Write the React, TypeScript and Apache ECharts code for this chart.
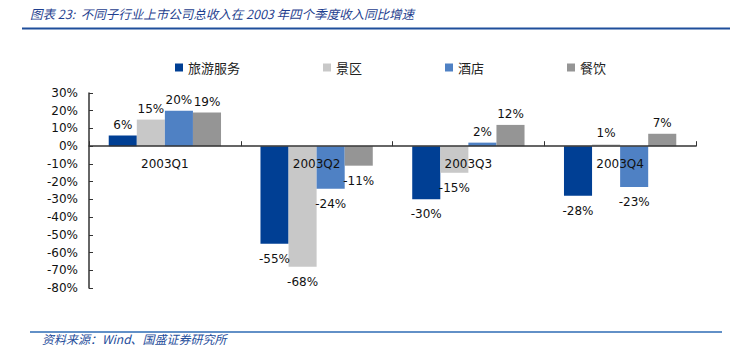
import React, { useEffect, useRef } from "react";
import * as echarts from "echarts";

const categories = ["2003Q1", "2003Q2", "2003Q3", "2003Q4"];
const seriesNames = ["旅游服务", "景区", "酒店", "餐饮"];
const tourism = [6, -55, -30, -28];
const scenic = [15, -68, -15, 1];
const hotel = [20, -24, 2, -23];
const catering = [19, -11, 12, 7];
const colors = ["#003f94", "#c8c8c8", "#4f81c4", "#959595"];
const titleText = "图表 23:  不同子行业上市公司总收入在 2003 年四个季度收入同比增速";
const sourceText = "资料来源：Wind、国盛证券研究所";

export default function App() {
  const ref = useRef<HTMLDivElement>(null);
  useEffect(() => {
    const chart = echarts.init(ref.current!, null, { renderer: "svg" });
    const allData = [tourism, scenic, hotel, catering];
    const series = allData.map((arr, i) => ({
      name: seriesNames[i],
      type: "bar",
      barGap: "0%",
      barCategoryGap: "26%",
      itemStyle: { color: colors[i] },
      data: arr.map((v) => ({
        value: v,
        label: {
          show: true,
          position: v >= 0 ? "top" : "bottom",
          distance: v >= 0 ? 5 : 9,
        },
      })),
      label: {
        show: true,
        formatter: (p: any) => p.value + "%",
        fontFamily: "DejaVu Sans",
        fontSize: 12,
        color: "#111",
      },
    }));
    chart.setOption({
      animation: false,
      backgroundColor: "#ffffff",
      legend: {
        left: 170,
        top: 56,
        itemWidth: 8,
        itemHeight: 8,
        itemGap: 83,
        icon: "rect",
        data: seriesNames,
        textStyle: { fontFamily: "Noto Sans CJK SC", fontSize: 13, color: "#222" },
      },
      grid: { left: 89, right: 34, top: 93, bottom: 65 },
      xAxis: {
        type: "category",
        data: categories,
        offset: -141.8,
        axisLine: { onZero: false, lineStyle: { color: "#333", width: 1.5 } },
        axisTick: { show: true, inside: true, length: 5, lineStyle: { color: "#333" } },
        axisLabel: { fontFamily: "DejaVu Sans", fontSize: 12, color: "#111", margin: 12 },
        z: 10,
      },
      yAxis: {
        type: "value",
        min: -80,
        max: 30,
        interval: 10,
        splitLine: { show: false },
        axisLine: { show: true, lineStyle: { color: "#333", width: 1.5 } },
        axisTick: { show: true, inside: true, length: 4, lineStyle: { color: "#333" } },
        axisLabel: {
          formatter: "{value}%",
          fontFamily: "DejaVu Sans",
          fontSize: 12,
          color: "#111",
          margin: 11,
        },
      },
      graphic: [
        {
          type: "text",
          left: 30,
          top: 7,
          style: {
            text: titleText,
            fontFamily: "Noto Sans CJK SC",
            fontSize: 12.5,
            fontStyle: "italic",
            fill: "#1f3f8f",
          },
        },
        {
          type: "line",
          shape: { x1: 22, y1: 28.5, x2: 730, y2: 28.5 },
          style: { stroke: "#1f4e9b", lineWidth: 2 },
        },
        {
          type: "line",
          shape: { x1: 30, y1: 332, x2: 722, y2: 332 },
          style: { stroke: "#2e6bb5", lineWidth: 1.5 },
        },
        {
          type: "text",
          left: 42,
          top: 332,
          style: {
            text: sourceText,
            fontFamily: "Noto Sans CJK SC",
            fontSize: 12,
            fontStyle: "italic",
            fill: "#1f4e9b",
          },
        },
      ],
      series,
    });
    return () => chart.dispose();
  }, []);
  return <div ref={ref} style={{ width: 730, height: 353, position: "absolute", left: 0, top: 0 }} />;
}
